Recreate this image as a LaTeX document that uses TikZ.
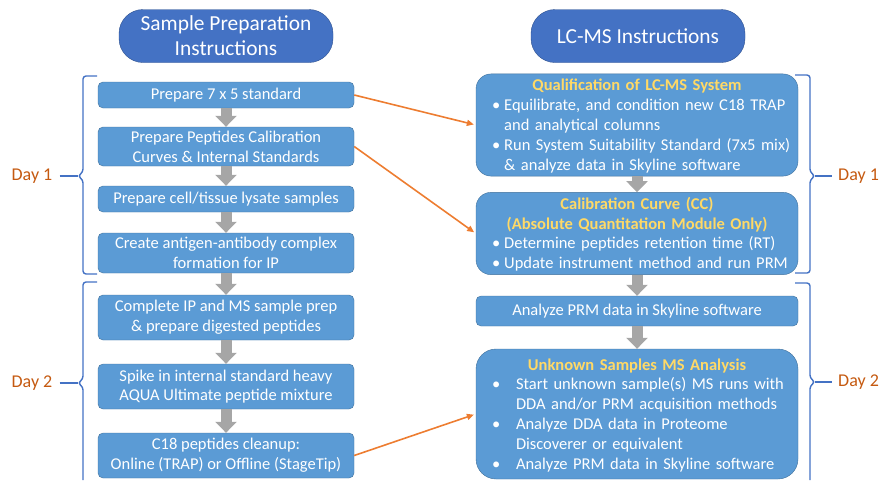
\documentclass[tikz,border=0pt]{standalone}
\usepackage{fontspec}
\setmainfont{Carlito}
\usetikzlibrary{arrows.meta}
\definecolor{titleblue}{HTML}{4472C4}
\definecolor{titleedge}{HTML}{2F528F}
\definecolor{boxblue}{HTML}{5B9BD5}
\definecolor{boxedge}{HTML}{41719C}
\definecolor{headyellow}{HTML}{FFD966}
\definecolor{linkorange}{HTML}{ED7D31}
\definecolor{daybrown}{HTML}{C55A11}
\definecolor{stepgray}{HTML}{A6A6A6}
\newcommand\lchead[1]{\makebox[\linewidth]{\rule{0pt}{17pt}\bfseries\color{headyellow}#1}}

\begin{document}
\begin{tikzpicture}[x=1pt, y=1pt,
  title/.style={draw=titleedge, fill=titleblue, text=white, rounded corners=24pt, minimum width=214pt, minimum height=53pt, inner sep=0pt, align=center, font=\fontsize{21.4}{25}\selectfont},
  prepbox/.style={draw=boxedge, fill=boxblue, text=white, rounded corners=5pt, minimum width=256pt, inner sep=0pt, align=center, font=\fontsize{16.5}{19.8}\selectfont},
  lcbox/.style={prepbox, minimum width=322pt, text width=290pt, align=left, rounded corners=15pt},
  steparrow/.style={draw=stepgray, line width=11pt, -{Triangle[width=21pt, length=11pt]}},
  linkarrow/.style={draw=linkorange, line width=1.6pt, shorten >=2pt, -{Triangle[width=6pt, length=7pt]}},
  daybrace/.style={draw=titleblue, line width=1.4pt, rounded corners=3pt},
  daylabel/.style={text=daybrown, inner sep=0pt, font=\fontsize{18}{20}\selectfont}]
  \useasboundingbox (0,0) rectangle (882,-480);

  \node[title] (t1) at (226,-36) {Sample Preparation\\Instructions};
  \node[title] (t2) at (638,-36) {LC-MS Instructions};

  \node[prepbox, minimum height=26pt] (s1) at (226,-95) {Prepare 7 x 5 standard};
  \node[prepbox, minimum height=39pt] (s2) at (226,-146.5) {Prepare Peptides Calibration\\Curves \& Internal Standards};
  \node[prepbox, minimum height=26pt] (s3) at (226,-199) {Prepare cell/tissue lysate samples};
  \node[prepbox, minimum height=40pt] (s4) at (226,-253) {Create antigen-antibody complex\\formation for IP};
  \node[prepbox, minimum height=45pt] (s5) at (226,-317.5) {Complete IP and MS sample prep\\\& prepare digested peptides};
  \node[prepbox, minimum height=45pt] (s6) at (226,-386.5) {Spike in internal standard heavy\\AQUA Ultimate peptide mixture};
  \node[prepbox, minimum height=45pt] (s7) at (226,-455.5) {C18 peptides cleanup:\\Online (TRAP) or Offline (StageTip)};

  \node[lcbox, minimum height=98pt] (l1) at (637,-125) {\lchead{Qualification of LC-MS System}\\
    \begin{tabular}[t]{@{}l@{\hspace{4pt}}l@{}}
      \textbullet & Equilibrate, and condition new C18 TRAP\\
      & and analytical columns\\
      \textbullet & Run System Suitability Standard (7x5 mix)\\
      & \& analyze data in Skyline software
    \end{tabular}};
  \node[lcbox, minimum height=81pt] (l2) at (637,-233.5) {\lchead{Calibration Curve (CC)}\\
    \lchead{(Absolute Quantitation Module Only)}\\
    \begin{tabular}[t]{@{}l@{\hspace{4pt}}l@{}}
      \textbullet & Determine peptides retention time (RT)\\
      \textbullet & Update instrument method and run PRM
    \end{tabular}};
  \node[prepbox, minimum width=322pt, minimum height=30pt] (l3) at (637,-311) {Analyze PRM data in Skyline software};
  \node[lcbox, rounded corners=20pt, minimum height=130pt] (l4) at (637,-414) {\lchead{Unknown Samples MS Analysis}\\
    \begin{tabular}[t]{@{}p{24pt}@{}l@{}}
      \textbullet & Start unknown sample(s) MS runs with\\
      & DDA and/or PRM acquisition methods\\
      \textbullet & Analyze DDA data in Proteome\\
      & Discoverer or equivalent\\
      \textbullet & Analyze PRM data in Skyline software
    \end{tabular}};

  % Draw the flow arrows
  \foreach \a/\b in {s1/s2, s2/s3, s3/s4, s4/s5, s5/s6, s6/s7, l1/l2, l2/l3, l3/l4}
    \draw[steparrow] (\a.south) -- (\b.north);
  \draw[linkarrow] (s1.east) -- (l1.west);
  \draw[linkarrow] (s2.east) -- (l2.west);
  \draw[linkarrow] (s7.east) -- (l4.west);

  % Day braces
  \draw[daybrace] (97,-76) -- (83,-76) -- (83,-172) -- (78,-176) coordinate (b1) -- (83,-180) -- (83,-274) -- (97,-274);
  \draw[daybrace] (97,-282) -- (83,-282) -- (83,-379) -- (78,-383) coordinate (b2) -- (83,-387) -- (83,-480);
  \draw[daybrace] (795,-75) -- (810,-75) -- (810,-172) -- (815,-176) coordinate (b3) -- (810,-180) -- (810,-273) -- (795,-273);
  \draw[daybrace] (795,-283) -- (810,-283) -- (810,-378) -- (815,-382) coordinate (b4) -- (810,-386) -- (810,-480);

  \node[daylabel] (d1) at (32,-176) {Day 1};
  \node[daylabel] (d2) at (32,-383) {Day 2};
  \node[daylabel, anchor=west] (d3) at (838,-176) {Day 1};
  \node[daylabel, anchor=west] (d4) at (838,-382) {Day 2};
  \draw[daybrace] (d1.east) ++(7pt,0) -- (b1);
  \draw[daybrace] (d2.east) ++(7pt,0) -- (b2);
  \draw[daybrace] (b3) -- ([xshift=-6pt]d3.west);
  \draw[daybrace] (b4) -- ([xshift=-6pt]d4.west);
\end{tikzpicture}
\end{document}
